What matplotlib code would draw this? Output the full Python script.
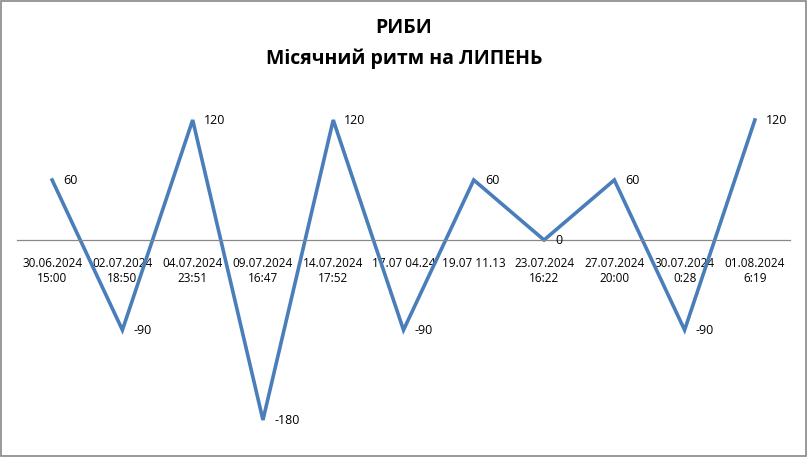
import matplotlib.pyplot as plt
from matplotlib.patches import Rectangle

# dates of the phases and their values
labels = ["30.06.2024\n15:00", "02.07.2024\n18:50", "04.07.2024\n23:51",
          "09.07.2024\n16:47", "14.07.2024\n17:52", "17.07 04.24",
          "19.07 11.13", "23.07.2024\n16:22", "27.07.2024\n20:00",
          "30.07.2024\n0:28", "01.08.2024\n6:19"]
values = [60, -90, 120, -180, 120, -90, 60, 0, 60, -90, 120]

plt.rcParams['font.family'] = ['Open Sans', 'DejaVu Sans']

fig = plt.figure(figsize=(8.08, 4.57), dpi=100)
ax = fig.add_axes([17 / 808, 17 / 457, 773 / 808, 340 / 457])

x = list(range(len(values)))
ax.plot(x, values, color="#4A7EBB", linewidth=2.6, solid_joinstyle="miter")

for xi, v in zip(x, values):
    ax.annotate(str(v), (xi, v), xytext=(8, 0), textcoords="offset points",
                ha="left", va="center", fontsize=9)

ax.set_xlim(-0.5, len(values) - 0.5)
ax.set_ylim(-200, 140)
ax.set_xticks(x)
ax.set_xticklabels(labels, linespacing=1.4)
ax.tick_params(axis="x", length=0, pad=12.5, labelsize=8.5)
ax.set_yticks([])
for s in ["top", "right", "left"]:
    ax.spines[s].set_visible(False)
ax.spines["bottom"].set_position(("data", 0))
ax.spines["bottom"].set_color("#888888")
ax.spines["bottom"].set_linewidth(0.9)
ax.patch.set_visible(False)

fig.text(0.5, 1 - 28 / 457, "РИБИ", ha="center", va="center",
         fontsize=14, fontweight="bold")
fig.text(0.5, 1 - 59 / 457, "Місячний ритм на ЛИПЕНЬ", ha="center",
         va="center", fontsize=14, fontweight="bold")

fig.patches.append(Rectangle((0.001, 0.002), 0.997, 0.996, transform=fig.transFigure,
                             fill=False, edgecolor="#888888", linewidth=1.2))

fig.savefig("out.png", dpi=100)
